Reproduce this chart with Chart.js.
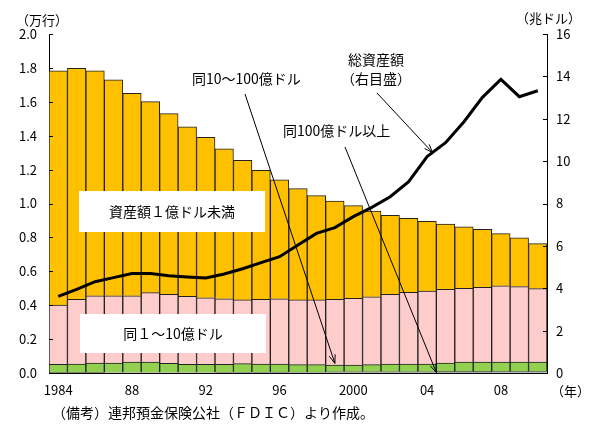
<!DOCTYPE html>
<html lang="ja">
<head>
<meta charset="utf-8">
<script src="https://cdn.jsdelivr.net/npm/chart.js@4/dist/chart.umd.min.js"></script>
<style>
    body { margin: 0; background: #fff; }
    #contenedor { width: 590px; height: 431px; }
</style>
</head>
<body>
<div id="contenedor"><canvas id="grafica" width="590" height="431"></canvas></div>
<script>
const anios = ["1984", "1985", "1986", "1987", "1988", "1989", "1990", "1991", "1992", "1993", "1994", "1995", "1996", "1997",
    "1998", "1999", "2000", "2001", "2002", "2003", "2004", "2005", "2006", "2007", "2008", "2009", "2010"];
const etiquetasX = ["1984", "", "", "", "88", "", "", "", "92", "", "", "", "96", "", "", "", "2000", "", "", "", "04", "", "", "", "08", "", ""];

// 万行
const menos1 = [1.382, 1.362, 1.327, 1.273, 1.194, 1.127, 1.066, 1.001, 0.946, 0.884, 0.824, 0.762, 0.701, 0.657,
    0.615, 0.580, 0.546, 0.506, 0.466, 0.437, 0.411, 0.385, 0.363, 0.342, 0.307, 0.288, 0.265];
const de1a10 = [0.350, 0.382, 0.397, 0.397, 0.391, 0.409, 0.407, 0.401, 0.393, 0.387, 0.376, 0.381, 0.385, 0.382,
    0.382, 0.388, 0.394, 0.401, 0.411, 0.423, 0.431, 0.435, 0.435, 0.441, 0.450, 0.445, 0.433];
const de10a100 = [0.049, 0.051, 0.057, 0.056, 0.062, 0.062, 0.054, 0.048, 0.048, 0.047, 0.051, 0.049, 0.048, 0.043,
    0.043, 0.040, 0.040, 0.042, 0.046, 0.046, 0.046, 0.051, 0.057, 0.057, 0.056, 0.056, 0.056];
const mas100 = [0.002, 0.002, 0.002, 0.003, 0.003, 0.003, 0.003, 0.003, 0.003, 0.004, 0.004, 0.004, 0.005, 0.006,
    0.006, 0.007, 0.007, 0.007, 0.007, 0.007, 0.007, 0.008, 0.008, 0.008, 0.009, 0.009, 0.009];

// 兆ドル
const activosTotales = [3.62, 3.95, 4.31, 4.50, 4.70, 4.70, 4.59, 4.53, 4.48, 4.67, 4.92, 5.21, 5.49, 6.04,
    6.59, 6.86, 7.38, 7.82, 8.32, 9.03, 10.21, 10.87, 11.86, 13.01, 13.86, 13.04, 13.32];

const fuente = "'Noto Sans CJK JP', sans-serif";

function flecha(ctx, x0, y0, x1, y1) {
    const angulo = Math.atan2(y1 - y0, x1 - x0);
    ctx.beginPath();
    ctx.moveTo(x0, y0);
    ctx.lineTo(x1, y1);
    ctx.moveTo(x1 - 9 * Math.cos(angulo - 0.35), y1 - 9 * Math.sin(angulo - 0.35));
    ctx.lineTo(x1, y1);
    ctx.lineTo(x1 - 9 * Math.cos(angulo + 0.35), y1 - 9 * Math.sin(angulo + 0.35));
    ctx.stroke();
}

const anotaciones = {
    id: "anotaciones",
    afterDatasetsDraw(chart) {
        const { ctx, chartArea, scales: { x, y, y1 } } = chart;
        ctx.save();
        ctx.strokeStyle = "#000";
        ctx.lineWidth = 1;

        // marcas hacia dentro
        y.ticks.forEach((t) => {
            const py = Math.round(y.getPixelForValue(t.value)) + 0.5;
            ctx.beginPath();
            ctx.moveTo(chartArea.left, py);
            ctx.lineTo(chartArea.left + 4, py);
            ctx.stroke();
        });
        y1.ticks.forEach((t) => {
            const py = Math.round(y1.getPixelForValue(t.value)) + 0.5;
            ctx.beginPath();
            ctx.moveTo(chartArea.right - 4, py);
            ctx.lineTo(chartArea.right, py);
            ctx.stroke();
        });

        // cajas blancas
        ctx.fillStyle = "#fff";
        ctx.fillRect(79, 191, 186, 41);
        ctx.fillRect(80, 314, 186, 39);

        ctx.fillStyle = "#000";
        ctx.font = "14px " + fuente;
        ctx.textBaseline = "middle";
        ctx.textAlign = "center";
        ctx.fillText("資産額１億ドル未満", 172, 212);
        ctx.fillText("同１～10億ドル", 173, 334);
        ctx.fillText("総資産額", 376, 60);
        ctx.fillText("（右目盛）", 376, 79);

        ctx.textAlign = "left";
        ctx.fillText("同10～100億ドル", 192, 79);
        ctx.fillText("同100億ドル以上", 283, 131);

        // flechas
        flecha(ctx, 245, 94, x.getPixelForValue(15), y.getPixelForValue(0.057));
        flecha(ctx, 345, 147, x.getPixelForValue(20.5), y.getPixelForValue(0.003));
        flecha(ctx, 377, 93, x.getPixelForValue(20.3), y1.getPixelForValue(10.4));

        // títulos de ejes
        ctx.font = "13px " + fuente;
        ctx.fillText("（万行）", 16, 20);
        ctx.fillText("（兆ドル）", 516, 18);
        ctx.fillText("（年）", 551, 391);
        ctx.font = "14px " + fuente;
        ctx.fillText("（備考）連邦預金保険公社（ＦＤＩＣ）より作成。", 52, 413);
        ctx.restore();
    }
};

const ctx = document.getElementById("grafica");
const grafica = new Chart(ctx, {
    type: "bar",
    data: {
        labels: anios,
        datasets: [
            {
                label: "同100億ドル以上",
                data: mas100,
                backgroundColor: "#808080",
                borderColor: "#222",
                borderWidth: 1,
                yAxisID: "y",
                order: 1
            },
            {
                label: "同10～100億ドル",
                data: de10a100,
                backgroundColor: "#92D050",
                borderColor: "#222",
                borderWidth: 1,
                yAxisID: "y",
                order: 1
            },
            {
                label: "同１～10億ドル",
                data: de1a10,
                backgroundColor: "#FFCCCC",
                borderColor: "#222",
                borderWidth: 1,
                yAxisID: "y",
                order: 1
            },
            {
                label: "資産額１億ドル未満",
                data: menos1,
                backgroundColor: "#FFC000",
                borderColor: "#222",
                borderWidth: 1,
                yAxisID: "y",
                order: 1
            },
            {
                type: "line",
                label: "総資産額",
                data: activosTotales,
                borderColor: "#000",
                borderWidth: 3,
                pointRadius: 0,
                tension: 0,
                yAxisID: "y1",
                order: 0
            }
        ]
    },
    options: {
        responsive: false,
        devicePixelRatio: 1,
        animation: false,
        categoryPercentage: 1,
        barPercentage: 1,
        layout: {
            padding: { top: 34, left: 0, right: 0, bottom: 0 }
        },
        plugins: {
            legend: { display: false },
            tooltip: { enabled: false }
        },
        scales: {
            x: {
                stacked: true,
                grid: { display: true, drawOnChartArea: false, drawTicks: false },
                border: { display: true, color: "#000", width: 1 },
                ticks: {
                    autoSkip: false,
                    maxRotation: 0,
                    padding: 9,
                    color: "#000",
                    font: { family: fuente, size: 13 },
                    callback: (valor, indice) => etiquetasX[indice]
                },
                afterFit: (eje) => { eje.height = 58; }
            },
            y: {
                stacked: true,
                position: "left",
                min: 0,
                max: 2,
                grid: { display: true, drawOnChartArea: false, drawTicks: false },
                border: { display: true, color: "#000", width: 1 },
                ticks: {
                    stepSize: 0.2,
                    padding: 12,
                    color: "#000",
                    font: { family: fuente, size: 13 },
                    callback: (valor) => valor.toFixed(1)
                },
                afterFit: (eje) => { eje.width = 49; }
            },
            y1: {
                position: "right",
                min: 0,
                max: 16,
                grid: { display: true, drawOnChartArea: false, drawTicks: false },
                border: { display: true, color: "#000", width: 1 },
                ticks: {
                    stepSize: 2,
                    padding: 9,
                    color: "#000",
                    font: { family: fuente, size: 13 }
                },
                afterFit: (eje) => { eje.width = 43; }
            }
        }
    },
    plugins: [anotaciones]
});
</script>
</body>
</html>
